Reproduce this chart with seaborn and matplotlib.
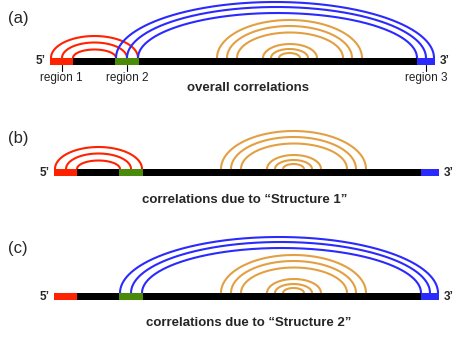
import numpy as np
import pandas as pd
import matplotlib
matplotlib.use("Agg")
import matplotlib.pyplot as plt
from matplotlib.patches import Rectangle
import seaborn as sns

# sequence positions (nt from the 5' end), bar length
SEQ_LEN = 385
region_names = ["region 1", "region 2", "region 3"]
region_start = [0, 65, 367]
region_end = [23, 89, 385]

# arcs: left end, right end, arc height
red_left = [1, 12, 23]
red_right = [88, 77, 66]
red_height = [22, 15.5, 8.5]

blue_left = [66, 77, 88]
blue_right = [384, 376, 367]
blue_height = [56, 51, 45]

orange_left = [167, 177, 187, 213, 221, 229]
orange_right = [312, 302, 293, 267, 258, 250]
orange_height = [38, 32, 25.5, 14, 9, 5]

panel_labels = ["(a)", "(b)", "(c)"]
captions = ["overall correlations",
            "correlations due to \u201cStructure 1\u201d",
            "correlations due to \u201cStructure 2\u201d"]
panel_arcs = [["red", "blue", "orange"], ["red", "orange"], ["blue", "orange"]]

COLORS = {"red": "#ff2200", "green": "#4a8a0a", "blue": "#2a2aff", "orange": "#e2a043"}
REGION_COLORS = [COLORS["red"], COLORS["green"], COLORS["blue"]]
ARC_DATA = {
    "red": (red_left, red_right, red_height),
    "blue": (blue_left, blue_right, blue_height),
    "orange": (orange_left, orange_right, orange_height),
}

# layout in pixels: bar start x, bar top y, caption centre
bar_x0 = [50, 54, 54]
bar_top = [58, 169, 293]
BAR_H = 7
caption_xy = [(248, 88), (245, 200), (249, 323)]
label_y = [19, 139, 249]

sns.set_theme(style="white")
plt.rcParams["font.family"] = ["Liberation Sans", "DejaVu Sans"]

fig = plt.figure(figsize=(4.55, 3.39), dpi=100)
ax = fig.add_axes([0, 0, 1, 1])
ax.set_xlim(0, 455)
ax.set_ylim(339, 0)
ax.axis("off")

t = np.linspace(0, np.pi, 300)
for p in range(3):
    x0, top = bar_x0[p], bar_top[p]
    rows = []
    for fam in panel_arcs[p]:
        lefts, rights, heights = ARC_DATA[fam]
        for i, (l, r, h) in enumerate(zip(lefts, rights, heights)):
            cx = x0 + (l + r) / 2
            a = (r - l) / 2
            xs = cx - a * np.cos(t)
            ys = top - h * np.sin(t)
            rows.append(pd.DataFrame({"x": xs, "y": ys, "fam": fam,
                                      "arc": f"{fam}{i}", "order": np.arange(len(t))}))
    df = pd.concat(rows, ignore_index=True)
    sns.lineplot(data=df, x="x", y="y", hue="fam", units="arc", estimator=None,
                 sort=False, palette=COLORS, legend=False, linewidth=1.5, ax=ax)

    # sequence bar and regions
    ax.add_patch(Rectangle((x0, top), SEQ_LEN, BAR_H, color="black", lw=0, zorder=3))
    for s, e, c in zip(region_start, region_end, REGION_COLORS):
        ax.add_patch(Rectangle((x0 + s, top), e - s, BAR_H, color=c, lw=0, zorder=4))

    ax.text(x0 - 4, top + BAR_H / 2, "5\u2019", ha="right", va="center",
            fontsize=8.5, fontweight="bold")
    ax.text(x0 + SEQ_LEN + 5, top + BAR_H / 2, "3\u2019", ha="left", va="center",
            fontsize=8.5, fontweight="bold")
    ax.text(8, label_y[p], panel_labels[p], ha="left", va="center", fontsize=12)
    ax.text(caption_xy[p][0], caption_xy[p][1], captions[p], ha="center", va="center",
            fontsize=9.5, fontweight="bold")

# region markers only in panel (a)
for name, s, e in zip(region_names, region_start, region_end):
    xm = bar_x0[0] + (s + e) / 2
    ax.plot([xm, xm], [bar_top[0] + BAR_H, bar_top[0] + BAR_H + 6], color="black", lw=0.8)
    ax.text(xm, bar_top[0] + BAR_H + 13, name, ha="center", va="center", fontsize=8.5,
            color="#222222")

fig.savefig("out.png", dpi=100)
